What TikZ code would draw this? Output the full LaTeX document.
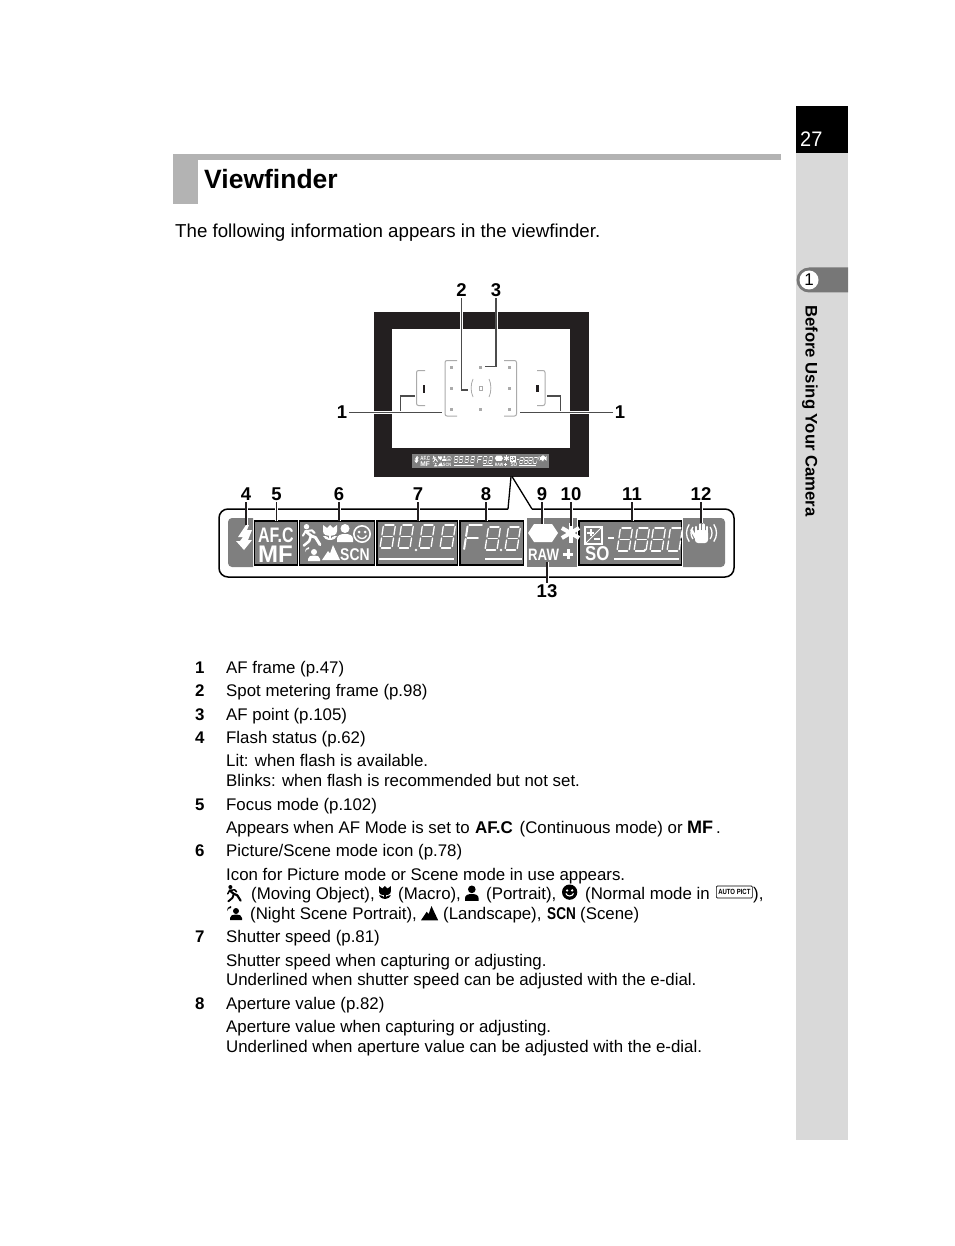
\documentclass[tikz,border=0pt]{standalone}
\usepackage{fontspec}
\setmainfont{Liberation Sans}
\usetikzlibrary{calc}
\definecolor{lcdgray}{HTML}{7F7F7F}
\definecolor{headgray}{HTML}{B3B3B3}
\definecolor{sidegray}{HTML}{D9D9D9}
\definecolor{tabgray}{HTML}{777777}
\definecolor{afgray}{HTML}{ABABAB}
\definecolor{inkblack}{HTML}{231F20}
\newcommand\lcds{1}
\newcommand\fsz[1]{\fontsize{#1}{#1}\selectfont}
\tikzset{
  body/.style={anchor=base west,inner sep=0pt,font=\fsz{16.85}},
  numb/.style={anchor=base west,inner sep=0pt,font=\fsz{16.85}\bfseries},
  callno/.style={inner sep=1.5pt,font=\fsz{18.5}\bfseries},
  leader/.style={preaction={draw,white,line width=3pt},draw=inkblack,line width=1.2pt},
  vfleader/.style={leader,draw=black!70},
  lcdtxt/.style={anchor=base west,inner sep=0pt,white,transform shape},
  lcdseg/.style={white,line width=\lcds*1.3pt,line cap=round},
  lcdbox/.style={draw=black,line width=1.7pt,fill=lcdgray},
  afline/.style={afgray,line width=1pt,rounded corners=2pt},
}
\newcommand\lcdzero[2]{
  \begin{scope}[shift={(#1,#2)},xslant=0.15]
    \draw[lcdseg] (1.5,-23)--(10.5,-23);
    \foreach \p in {0,12}{
      \draw[lcdseg] (\p,-21.5)--(\p,-13);
      \draw[lcdseg] (\p,-10)--(\p,-1.5);
    }
    \draw[lcdseg] (1.5,0)--(10.5,0);
  \end{scope}
}
\newcommand\lcdmid[2]{
  \begin{scope}[shift={(#1,#2)},xslant=0.15]
    \draw[lcdseg] (1.5,-11.5)--(10.5,-11.5);
  \end{scope}
}
\newcommand\lcddigit[2]{\lcdzero{#1}{#2}\lcdmid{#1}{#2}}
\newcommand\iconrun[4]{
  \begin{scope}[shift={(#1,#2)},scale=#3,#4,line cap=round,line join=round]
    \fill (5,3) circle(3);
    \draw[line width=#3*\lcds*3.2pt] (4,8)--(10,13)--(15,15)--(20,23);
    \draw[line width=#3*\lcds*2.8pt] (10,13)--(8,19)--(2,24);
    \draw[line width=#3*\lcds*2.2pt] (4,8)--(1,13);
    \draw[line width=#3*\lcds*2.2pt] (4,8)--(11,7)--(14,10);
  \end{scope}
}
\newcommand\iconflower[4]{
  \begin{scope}[shift={(#1,#2)},scale=#3,#4,line cap=round]
    \fill (0,0)--(4,3)--(7,0)--(10,3)--(14,0)--(14,6) .. controls (14,10) and (10,11) .. (7,11) .. controls (4,11) and (0,10) .. (0,6)--cycle;
    \fill (6,10) rectangle(8,15);
    \fill (7,15) .. controls (3,15) and (1,13) .. (0,11) .. controls (4,11) and (6,12) .. (7,15);
    \fill (7,15) .. controls (11,15) and (13,13) .. (14,11) .. controls (10,11) and (8,12) .. (7,15);
  \end{scope}
}
\newcommand\iconperson[4]{
  \begin{scope}[shift={(#1,#2)},scale=#3,#4]
    \fill (8,4.5) circle(4.5);
    \fill (0,18)--(0,15) .. controls (0,11) and (4,10) .. (8,10) .. controls (12,10) and (16,11) .. (16,15)--(16,18)--cycle;
  \end{scope}
}
\newcommand\iconsmile[6]{
  \begin{scope}[shift={(#1,#2)},scale=#3]
    \fill[#4] (9,9) circle(9);
    \fill[#5] (9,9) circle(7.2);
    \fill[#6] (6,7) circle(1.5);
    \fill[#6] (12,7) circle(1.5);
    \draw[#6,line width=#3*\lcds*1.3pt] (4.5,10.5) .. controls (6,14.5) and (12,14.5) .. (13.5,10.5);
  \end{scope}
}
\newcommand\iconnight[4]{
  \begin{scope}[shift={(#1,#2)},scale=#3,#4]
    \fill (9,5) circle(3);
    \fill (3,14)--(3,12) .. controls (3,9) and (6,8.5) .. (9,8.5) .. controls (12,8.5) and (15,9) .. (15,12)--(15,14)--cycle;
    \fill (4,0) .. controls (1,0) and (0,3) .. (0,5) .. controls (1,3) and (2,2) .. (4,2)--cycle;
  \end{scope}
}
\newcommand\iconhill[4]{
  \begin{scope}[shift={(#1,#2)},scale=#3,#4]
    \fill (0,15)--(6,6)--(8,8.5)--(11,0)--(18,15)--cycle;
  \end{scope}
}
\newcommand\lcdicons{
  \fill[white] (246,525)--(238,537)--(243,537)--(240,541)--(236,541)--(244,550)--(252,540)--(248,540)--(252,530)--(247,530)--(249,525)--cycle;
  \node[lcdtxt,font=\fsz{21}\bfseries] (afcmark) at (258,542) {\scalebox{.76}[1]{AF.C}};
  \node[lcdtxt,font=\fsz{24}\bfseries] (mfmark) at (258,562) {MF};
  \iconrun{302}{524}{.9}{white}
  \iconflower{323}{525}{1}{white}
  \iconperson{337}{524}{1}{white}
  \iconsmile{353}{525}{1}{white}{lcdgray}{white}
  \iconnight{305}{547}{1}{white}
  \iconhill{322}{545}{1}{white}
  \node[lcdtxt,font=\fsz{17}\bfseries] (scnmark) at (340,560) {\scalebox{.82}[1]{SCN}};
  \foreach \xx in {380,398,419,440}{\lcddigit{\xx}{548}}
  \fill[white] (416,550) circle(1.3);
  \fill[white] (379,558) rectangle(454,560);
  \begin{scope}[shift={(464,550)},xslant=0.15]
    \draw[lcdseg,line width=\lcds*2pt] (1.5,-25)--(14,-25);
    \draw[lcdseg,line width=\lcds*2pt] (1.5,-12.5)--(12,-12.5);
    \draw[lcdseg,line width=\lcds*2pt] (0,-23.5)--(0,-14);
    \draw[lcdseg,line width=\lcds*2pt] (0,-11)--(0,-1);
  \end{scope}
  \foreach \xx in {485,505}{\lcddigit{\xx}{550}}
  \fill[white] (501,550) circle(1.3);
  \fill[white] (485,558) rectangle(522,560);
  \fill[white] (528,533)--(534,524)--(552,524)--(558,533)--(552,542)--(534,542)--cycle;
  \foreach \aa in {90,30,-30}{
    \draw[white,line width=\lcds*4pt] (570.5,533)+(\aa:-10)--+(\aa:10);
  }
  \node[lcdtxt,font=\fsz{16.5}\bfseries] (rawmark) at (528,560) {\scalebox{.8}[1]{RAW}};
  \fill[white] (563,552.5) rectangle(573,555.5);
  \fill[white] (566.5,549) rectangle(569.5,559);
  \draw[white,line width=\lcds*1.2pt] (585,527) rectangle(602,544);
  \draw[white,line width=\lcds*1pt] (585,544)--(602,527);
  \fill[white] (587,531.5) rectangle(594,533.5);
  \fill[white] (589.5,529) rectangle(591.5,536);
  \fill[white] (594,537.5) rectangle(600,539.5);
  \node[lcdtxt,font=\fsz{20}\bfseries] (somark) at (585,560) {\scalebox{.84}[1]{SO}};
  \fill[white] (608,536.5) rectangle(614,538.5);
  \foreach \xx in {617,634,650}{\lcddigit{\xx}{551}}
  \lcdzero{667}{551}
  \fill[white] (645,550) circle(1.3);
  \fill[white] (614,558) rectangle(679,560);
  \fill[white,rounded corners=3pt] (695,530) rectangle(708,543);
  \foreach \xx/\yt in {696.2/527,700/524.5,703.5/524.5,707/527}{
    \draw[white,line width=\lcds*2.5pt,line cap=round] (\xx,\yt)--(\xx,534);
  }
  \draw[white,line width=\lcds*2.6pt,line cap=round] (691.5,530)--(696,538);
  \foreach \rr in {10.5,15}{
    \draw[white,line width=\lcds*1.3pt] ($(701.5,533)+(145:\rr)$) arc(145:215:\rr);
    \draw[white,line width=\lcds*1.3pt] ($(701.5,533)+(35:\rr)$) arc(35:-35:\rr);
  }
}
\begin{document}
\begin{tikzpicture}[x=1pt,y=-1pt,every node/.style={text=black}]
  \useasboundingbox (0,0) rectangle (954,1246);
  \fill[sidegray] (796,153) rectangle (848,1140);
  \fill[black] (796,106) rectangle (848,153);
  \node[inner sep=0pt,anchor=base west,font=\fsz{21},text=white] (pageno) at (800,147) {\scalebox{.95}[1]{27}};
  \fill[tabgray] (848,267.5)--(809,267.5) arc(-90:-270:12.5)--(848,292.5)--cycle;
  \node[circle,fill=white,inner sep=0pt,minimum size=19pt,font=\fsz{17}] (chapno) at (809,280) {1};
  \node[rotate=-90,inner sep=0pt,font=\fsz{16.7}\bfseries] (chapname) at (810,411) {Before Using Your Camera};

  \fill[headgray] (173,154) rectangle (781,160);
  \fill[headgray] (173,154) rectangle (198,204);
  \node[inner sep=0pt,anchor=base west,font=\fsz{26.5}\bfseries] (title) at (204,189) {Viewfinder};
  \node[inner sep=0pt,anchor=base west,font=\fsz{18.7}] (intro) at (175,238) {The following information appears in the viewfinder.};

  \fill[inkblack] (373.5,312) rectangle (588.5,477);
  \fill[white] (392,329) rectangle (570,448);
  \fill[lcdgray] (412,454) rectangle (549,468);
  \begin{scope}[shift={(412,454)},xscale=.276,yscale=.286,shift={(-228,-518)},name prefix=mini-]
    \renewcommand\lcds{.3}
    \lcdicons
  \end{scope}

  \draw[afline] (457,360.5)--(445,360.5)--(445,416)--(457,416);
  \draw[afline] (504,360.5)--(516.5,360.5)--(516.5,416)--(504,416);
  \draw[afline] (425,370.5)--(416.5,370.5)--(416.5,405.5)--(425,405.5);
  \draw[afline] (537,370.5)--(545,370.5)--(545,405.5)--(537,405.5);
  \foreach \xx in {451.7,480.7,509.7}{
    \foreach \yy in {367.3,388.3,409}{
      \fill[afgray] (\xx-1.5,\yy-1.5) rectangle (\xx+1.5,\yy+1.5);
    }
  }
  \fill[white] (479.2,386.8) rectangle (482.2,389.8);
  \draw[afgray,line width=.8pt] (479,386.6) rectangle (482.4,390);
  \draw[afgray,line width=.8pt] (473,379) .. controls (470.5,384) and (470.5,392) .. (473,397);
  \draw[afgray,line width=.8pt] (489,379) .. controls (491.5,384) and (491.5,392) .. (489,397);
  \fill[inkblack] (423,385) rectangle (425,393);
  \fill[inkblack] (535.5,385) rectangle (539,392);

  \node[callno] (n1a) at (342,412) {1};
  \node[callno] (n1b) at (620,412) {1};
  \node[callno] (n2) at (461.5,290) {2};
  \node[callno] (n3) at (496,290) {3};
  \coordinate (e1a) at (441.5,412.7);
  \coordinate (e1b) at (520,412.7);
  \coordinate (j1a) at (400.5,412.7);
  \coordinate (j1b) at (560.5,412.7);
  \coordinate (f1a) at (415,396);
  \coordinate (f1b) at (547,396);
  \coordinate (e2) at (468,390);
  \coordinate (e3) at (485,366.7);
  \draw[vfleader] (j1a)|-(f1a);
  \draw[vfleader] (j1b)|-(f1b);
  \draw[vfleader] (n1a.east|-e1a)--(e1a);
  \draw[vfleader] (n1b.west|-e1b)--(e1b);
  \draw[vfleader] (n2)|-(e2);
  \draw[vfleader] (n3)|-(e3);

  \draw[black,line width=1.5pt,rounded corners=9pt] (508,509)--(219,509)--(219,577)--(734,577)--(734,509)--(532,509);
  \draw[black,line width=1.3pt] (508,509)--(511,476.5);
  \draw[black,line width=1.3pt] (532,509)--(512,476.5);

  \fill[lcdgray,rounded corners=4pt] (253,518)--(228,518)--(228,567)--(253,567);
  \fill[lcdgray] (527,518) rectangle (577,567);
  \fill[lcdgray,rounded corners=4pt] (683,518)--(725,518)--(725,567)--(683,567);
  \fill[lcdgray] (245,518) rectangle (253,567);
  \fill[lcdgray] (683,518) rectangle (690,567);
  \draw[lcdbox] (254.5,521) rectangle (297.5,565);
  \draw[lcdbox] (299.5,521) rectangle (374.5,565);
  \draw[lcdbox] (377,521) rectangle (457.5,565);
  \draw[lcdbox] (460,521) rectangle (523.5,565);
  \draw[lcdbox] (579,521) rectangle (681.5,565);
  \lcdicons

  \foreach \lb/\xx/\yy in {4/246/525,5/276.5/521,6/339/521,7/418/521,8/486/521,9/542/524,10/571/526,11/632/521,12/701/523}{
    \node[callno] (n\lb) at (\xx,494) {\lb};
    \coordinate (e\lb) at (\xx,\yy);
    \draw[leader] (n\lb)--(e\lb);
  }
  \node[callno] (n13) at (547,591) {13};
  \coordinate (e13) at (547,562);
  \draw[leader] (n13)--(e13);

  \foreach \lb/\yy/\tx in {1/673/{AF frame (p.47)},2/696/{Spot metering frame (p.98)},3/720/{AF point (p.105)},4/743/{Flash status (p.62)},5/810/{Focus mode (p.102)},6/856/{Picture/Scene mode icon (p.78)},7/942/{Shutter speed (p.81)},8/1009/{Aperture value (p.82)}}{
    \node[numb] (num\lb) at (195,\yy) {\lb};
    \node[body] (item\lb) at (226,\yy) {\tx};
  }
  \foreach \yy/\tx [count=\i] in {766/{Lit: when flash is available.},786/{Blinks: when flash is recommended but not set.},880/{Icon for Picture mode or Scene mode in use appears.},966/{Shutter speed when capturing or adjusting.},985/{Underlined when shutter speed can be adjusted with the e-dial.},1032/{Aperture value when capturing or adjusting.},1052/{Underlined when aperture value can be adjusted with the e-dial.}}{
    \node[body] (sub\i) at (226,\yy) {\tx};
  }
  \node[body] (fa) at (226,833) {Appears when AF Mode is set to};
  \node[body,font=\fsz{17}\bfseries] (fb) at (475,833) {AF.C};
  \node[body] (fc) at (519.5,833) {(Continuous mode) or};
  \node[body,font=\fsz{18}\bfseries] (fd) at (687,833) {MF};
  \node[body] (fe) at (716,833) {.};

  \iconrun{227}{885}{.68}{black}
  \node[body] (pa) at (251,899) {(Moving Object),};
  \iconflower{379}{886}{.85}{black}
  \node[body] (pb) at (398,899) {(Macro),};
  \iconperson{465}{885.5}{.85}{black}
  \node[body] (pc) at (486,899) {(Portrait),};
  \iconsmile{562}{884.5}{.85}{black}{black}{white}
  \node[body] (pd) at (585,899) {(Normal mode in};
  \node[draw,line width=.7pt,rounded corners=1pt,inner sep=0pt,minimum width=36pt,minimum height=12pt,anchor=west,font=\fsz{7.5}\bfseries] (autopict) at (716,892) {\scalebox{.8}[1]{AUTO PICT}};
  \node[body] (pe) at (753,899) {),};
  \iconnight{227}{906}{1}{black}
  \node[body] (pf) at (250,919) {(Night Scene Portrait),};
  \iconhill{421}{906}{.95}{black}
  \node[body] (pg) at (443,919) {(Landscape),};
  \node[body,font=\fsz{17}\bfseries] (ph) at (547,919) {\scalebox{.8}[1]{SCN}};
  \node[body] (pi) at (580,919) {(Scene)};
\end{tikzpicture}
\end{document}
